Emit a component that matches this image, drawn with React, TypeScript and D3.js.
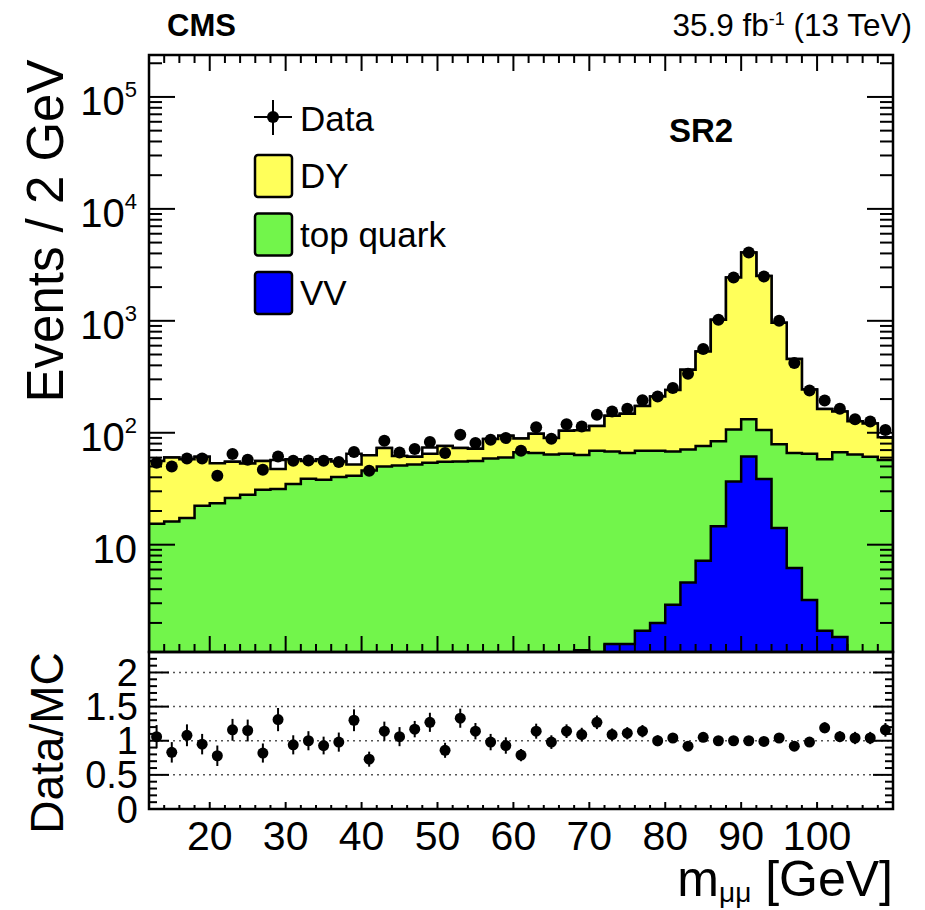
import React from 'react';
import * as d3 from 'd3';

// bins of m_mumu, 2 GeV wide
const binCenters = [13, 15, 17, 19, 21, 23, 25, 27, 29, 31, 33, 35, 37, 39, 41, 43, 45, 47, 49, 51, 53, 55, 57, 59, 61, 63, 65, 67, 69, 71, 73, 75, 77, 79, 81, 83, 85, 87, 89, 91, 93, 95, 97, 99, 101, 103, 105, 107, 109];

const vvVals = [0, 0, 0, 0, 0, 0, 0, 0, 0, 0, 0, 0, 0, 0, 0, 0, 0, 0, 0, 0, 0, 0, 0, 0, 0, 0, 0, 0,
  1.14, 0, 1.3, 1.3, 1.7, 2.0, 2.9, 4.6, 7.2, 14.6, 36.7, 61.5, 38.6, 14.1, 6.2, 3.2, 1.7, 1.5, 0, 0, 0];
const topVals = [15.4, 16.1, 17.3, 22.3, 23.5, 26.1, 27.9, 31.0, 31.4, 34.8, 38.8, 38.1, 40.3, 41.3, 46, 50, 51, 52, 54, 55, 55.4, 56, 59, 60, 67, 66, 64, 65,
  62, 69, 66.7, 64.7, 67.3, 67, 65.1, 66.4, 68.8, 69.4, 70.3, 70.5, 67.4, 64.9, 59.8, 61.8, 56.3, 65.5, 64, 61, 57];
const dyVals = [40.6, 43.9, 40.7, 38.7, 30, 28.9, 25.1, 25, 16.1, 23.2, 17.2, 19.9, 15.2, 10.7, 17, 23, 11, 9, 11, 21,
  17.6, 16, 29, 34, 22, 32, 26, 39, 42, 46, 74, 82, 104, 142, 173, 294, 456, 936, 2333, 3938, 2404, 883, 389, 179, 105, 88, 63, 60, 34];
// small unlisted component (drawn white on top of the stack)
const otherVals = [0, 0, 0, 0, 0, 0, 0, 0, 9.5, 0, 0, 0, 0, 13, 0, 0, 0, 0, 9, 0, 0, 0, 0, 0, 0, 0, 0, 0, 0, 0, 0, 0, 0, 0, 0, 0, 0, 0, 0, 0, 0, 0, 0, 0, 0, 0, 0, 0, 0];

const dataVals = [54, 50, 59, 59, 41.3, 64.5, 57.4, 46.7, 61.4, 56.2, 56.5, 56.2, 54.7, 67.3, 45.8, 84.9, 66.7, 71.5, 82.6, 65.8,
  96, 80.9, 86.6, 89.6, 69.1, 112, 88.4, 119, 114, 145, 155, 164, 195, 211, 251, 336, 559, 1021, 2438, 4074, 2489, 1000, 419, 239, 194, 164, 132, 126, 106];

const ratioVals = [1.06, 0.83, 1.08, 0.95, 0.78, 1.16, 1.15, 0.82, 1.31, 0.94, 1.0, 0.93, 0.98, 1.30, 0.73, 1.14, 1.06, 1.17, 1.27, 0.86,
  1.33, 1.14, 0.98, 0.93, 0.79, 1.14, 0.98, 1.14, 1.09, 1.27, 1.09, 1.11, 1.14, 1.0, 1.04, 0.92, 1.05, 1.0, 1.0, 1.0, 0.99, 1.04, 0.92, 0.98, 1.19, 1.06, 1.04, 1.04, 1.16];
const ratioErr = [0.17, 0.15, 0.16, 0.15, 0.15, 0.16, 0.16, 0.14, 0.17, 0.14, 0.14, 0.13, 0.14, 0.16, 0.11, 0.14, 0.14, 0.12, 0.14, 0.11,
  0.14, 0.12, 0.12, 0.12, 0.09, 0.11, 0.1, 0.1, 0.1, 0.1, 0.09, 0.09, 0.09, 0.08, 0.07, 0.06, 0.05, 0.03, 0.02, 0.02, 0.02, 0.03, 0.05, 0.07, 0.08, 0.08, 0.09, 0.09, 0.1];

const xTickLabels = [20, 30, 40, 50, 60, 70, 80, 90, 100];
const yTickValues = [10, 100, 1000, 10000, 100000];
const yTickExps = ['', '2', '3', '4', '5'];
const ratioTicks = [0, 0.5, 1, 1.5, 2];
const ratioTickLabels = ['0', '0.5', '1', '1.5', '2'];

const processes = [
  { key: 'vv', label: 'VV', color: '#0000ff' },
  { key: 'top', label: 'top quark', color: '#72f54b' },
  { key: 'dy', label: 'DY', color: '#ffff5a' },
  { key: 'other', label: '', color: '#ffffff' },
];

const font = "'Liberation Sans', Arial, Helvetica, sans-serif";
const binWidth = 2;

const App: React.FC = () => {
  const W = 925, H = 910;
  const left = 149, right = 893, top = 55, split = 652, bottom = 809;

  const x = d3.scaleLinear().domain([12, 110]).range([left, right]);
  const y = d3.scaleLog().domain([1.1, 2.37e5]).range([split, top]);
  const yr = d3.scaleLinear().domain([0, 2.3]).range([bottom, split]);

  const rows = binCenters.map((c, i) => ({
    c, vv: vvVals[i], top: topVals[i], dy: dyVals[i], other: otherVals[i],
  }));
  const stacked = d3.stack<any>().keys(processes.map(p => p.key))(rows);

  const yv = (v: number) => y(Math.max(v, 0.3));
  const stepPath = (tops: number[]) => {
    const base = yv(0.3);
    let p = `M${x(binCenters[0] - binWidth / 2)},${base}`;
    tops.forEach((v, i) => {
      const yy = yv(v);
      p += `L${x(binCenters[i] - binWidth / 2)},${yy}L${x(binCenters[i] + binWidth / 2)},${yy}`;
    });
    p += `L${x(binCenters[binCenters.length - 1] + binWidth / 2)},${base}Z`;
    return p;
  };

  // minor ticks
  const xMinor = d3.range(12, 110.01, 2);
  const yMinor: number[] = [];
  for (let e = 0; e <= 5; e++) {
    for (let m = 1; m <= 9; m++) {
      const v = m * Math.pow(10, e);
      if (v >= 1.1 && v <= 2.37e5) yMinor.push(v);
    }
  }
  const rMinor = d3.range(0, 2.31, 0.1);

  const tick = { stroke: '#000', strokeWidth: 2 };

  return (
    <svg width={W} height={H} style={{ position: 'absolute', left: 0, top: 0, background: '#fff' }} fontFamily={font}>
      <defs>
        <clipPath id="mainClip">
          <rect x={left} y={top} width={right - left} height={split - top} />
        </clipPath>
      </defs>
      <rect x={0} y={0} width={W} height={H} fill="#fff" />

      {/* stacked histograms, drawn from the largest cumulative down */}
      <g clipPath="url(#mainClip)">
        {[...stacked].reverse().map((layer, li) => {
          const proc = processes[processes.length - 1 - li];
          return (
            <path key={proc.key} d={stepPath(layer.map(d => d[1]))}
              fill={proc.color} stroke="#000" strokeWidth={2.5} strokeLinejoin="miter" />
          );
        })}
      </g>

      {/* ratio grid */}
      {[0.5, 1, 1.5, 2].map(v => (
        <line key={v} x1={left} x2={right} y1={yr(v)} y2={yr(v)} stroke="#555" strokeWidth={1.5} strokeDasharray="2 4" />
      ))}

      {/* frame ticks */}
      {xMinor.map(v => {
        const major = v % 10 === 0;
        const len = major ? 16 : 8;
        return (
          <g key={'xt' + v}>
            <line x1={x(v)} x2={x(v)} y1={split} y2={split - len} {...tick} />
            <line x1={x(v)} x2={x(v)} y1={top} y2={top + len} {...tick} />
            <line x1={x(v)} x2={x(v)} y1={bottom} y2={bottom - (major ? 7 : 4)} {...tick} />
          </g>
        );
      })}
      {yMinor.map(v => {
        const major = yTickValues.includes(v);
        const len = major ? 26 : 13;
        return (
          <g key={'yt' + v}>
            <line x1={left} x2={left + len} y1={y(v)} y2={y(v)} {...tick} />
            <line x1={right} x2={right - len} y1={y(v)} y2={y(v)} {...tick} />
          </g>
        );
      })}
      {rMinor.map((v, i) => {
        const major = i % 5 === 0;
        const len = major ? 20 : 8;
        return (
          <g key={'rt' + i}>
            <line x1={left} x2={left + len} y1={yr(v)} y2={yr(v)} {...tick} />
            <line x1={right} x2={right - len} y1={yr(v)} y2={yr(v)} {...tick} />
          </g>
        );
      })}

      <rect x={left} y={top} width={right - left} height={split - top} fill="none" stroke="#000" strokeWidth={2.5} />
      <rect x={left} y={split} width={right - left} height={bottom - split} fill="none" stroke="#000" strokeWidth={2.5} />

      {/* data points, main panel */}
      {dataVals.map((v, i) => (
        <circle key={'d' + i} cx={x(binCenters[i])} cy={y(v)} r={6} fill="#000" />
      ))}

      {/* ratio points */}
      {ratioVals.map((v, i) => (
        <g key={'r' + i}>
          <line x1={x(binCenters[i])} x2={x(binCenters[i])} y1={yr(v - ratioErr[i])} y2={yr(v + ratioErr[i])} stroke="#000" strokeWidth={2} />
          <circle cx={x(binCenters[i])} cy={yr(v)} r={5.5} fill="#000" />
        </g>
      ))}

      {/* y tick labels main */}
      {yTickValues.map((v, i) => (
        <text key={'yl' + v} x={137} y={y(v) + 18} textAnchor="end" fontSize={40}>
          10{yTickExps[i] && <tspan dy={-18} fontSize={22}>{yTickExps[i]}</tspan>}
        </text>
      ))}

      {/* ratio tick labels */}
      {ratioTicks.map((v, i) => (
        <text key={'rl' + v} x={138} y={yr(v) + 13.5} textAnchor="end" fontSize={38}>{ratioTickLabels[i]}</text>
      ))}

      {/* x tick labels */}
      {xTickLabels.map(v => (
        <text key={'xl' + v} x={x(v)} y={850} textAnchor="middle" fontSize={41}>{v}</text>
      ))}

      {/* axis titles */}
      <text x={893} y={896} textAnchor="end" fontSize={50}>
        m<tspan dy={6} fontSize={28}>μμ</tspan><tspan dy={-6}>{' [GeV]'}</tspan>
      </text>
      <text transform={`translate(63,231) rotate(-90)`} textAnchor="middle" fontSize={51}>Events / 2 GeV</text>
      <text transform={`translate(63,743) rotate(-90)`} textAnchor="middle" fontSize={46}>Data/MC</text>

      {/* header */}
      <text x={167} y={36} fontSize={31} fontWeight="bold">CMS</text>
      <text x={912} y={36} textAnchor="end" fontSize={31.5}>
        35.9 fb<tspan dy={-11} fontSize={18}>-1</tspan><tspan dy={11}>{' (13 TeV)'}</tspan>
      </text>
      <text x={701} y={142} textAnchor="middle" fontSize={33} fontWeight="bold">SR2</text>

      {/* legend */}
      <g>
        <line x1={254} x2={292} y1={117} y2={117} stroke="#000" strokeWidth={2} />
        <line x1={273} x2={273} y1={100} y2={135} stroke="#000" strokeWidth={2} />
        <circle cx={273} cy={117} r={6} fill="#000" />
        <text x={300} y={131} fontSize={35}>Data</text>
        {[processes[2], processes[1], processes[0]].map((p, i) => (
          <g key={'lg' + p.key}>
            <rect x={255} y={155 + i * 58.5} width={37} height={42} rx={3} fill={p.color} stroke="#000" strokeWidth={2.5} />
            <text x={300} y={188 + i * 58.5} fontSize={35}>{p.label}</text>
          </g>
        ))}
      </g>
    </svg>
  );
};

export default App;
